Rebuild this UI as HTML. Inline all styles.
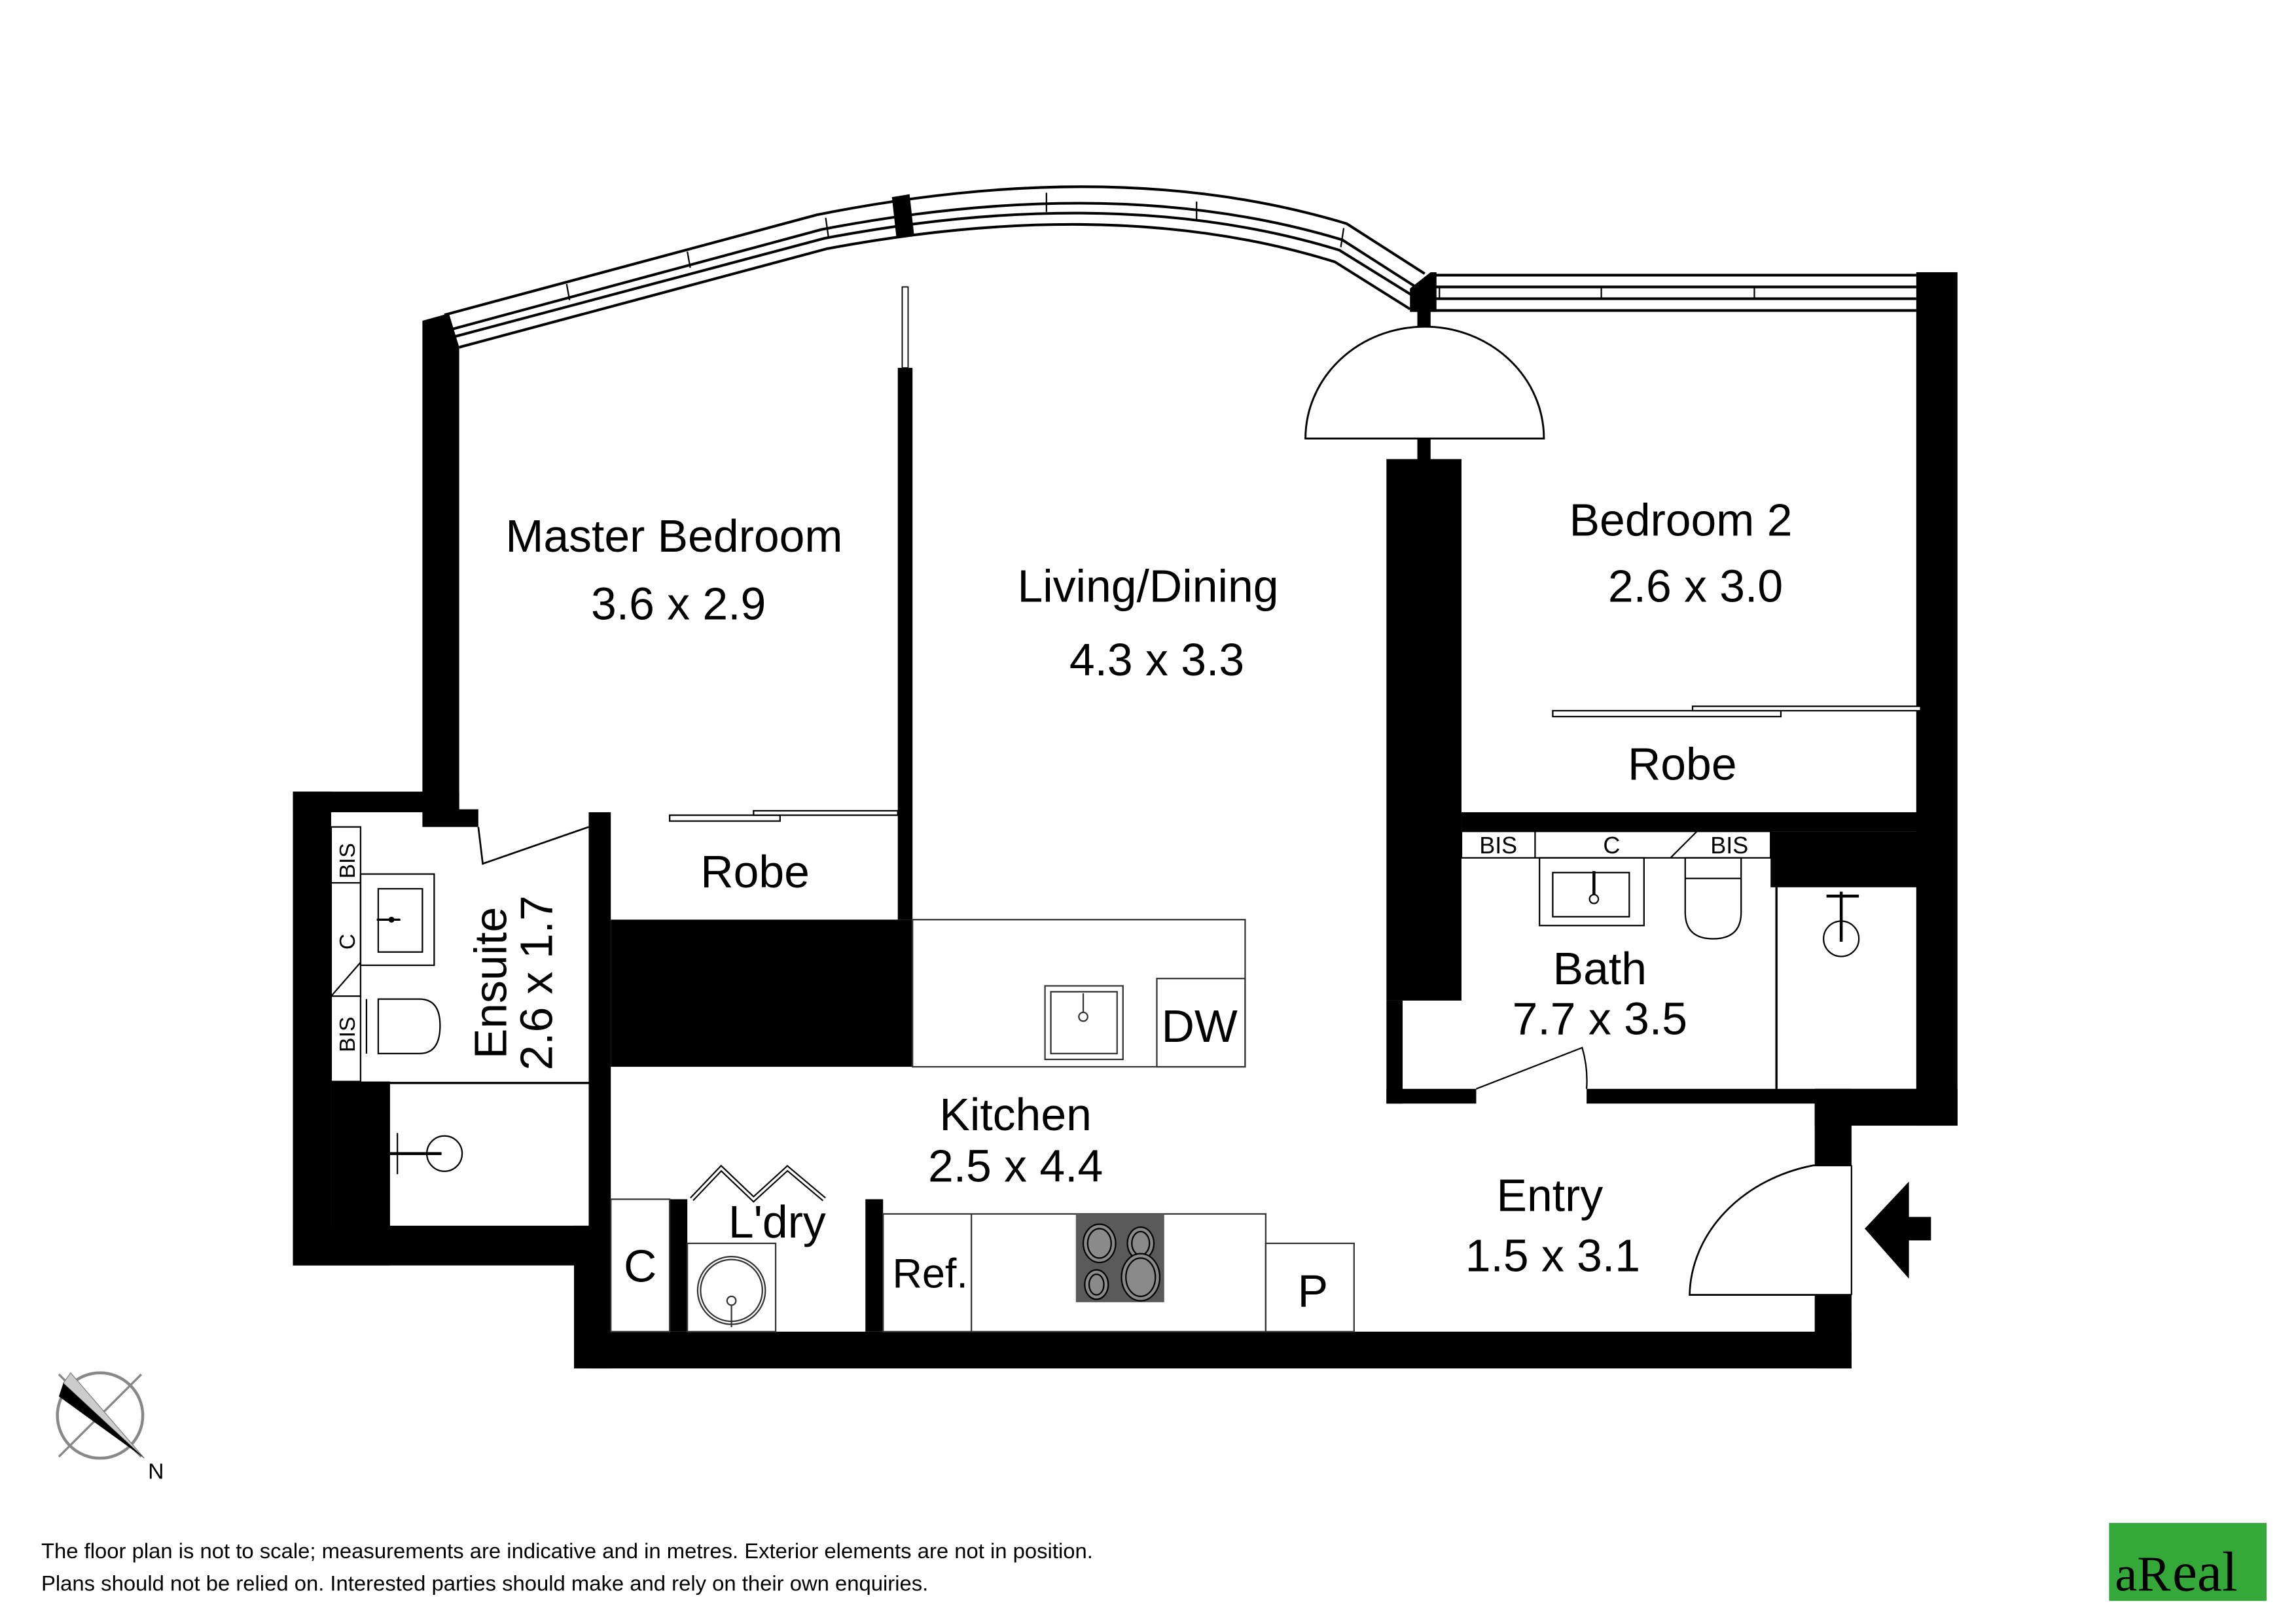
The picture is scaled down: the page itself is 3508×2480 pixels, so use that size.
<!DOCTYPE html>
<html><head><meta charset="utf-8"><style>
html,body{margin:0;padding:0;background:#fff;}
svg{display:block;}
text{font-family:"Liberation Sans",Arial,sans-serif;fill:#000;}
</style></head><body>
<svg width="3508" height="2480" viewBox="0 0 1560 1103" preserveAspectRatio="none" xmlns="http://www.w3.org/2000/svg">
<rect width="1560" height="1103" fill="#fff"/>
<g fill="none" stroke="#000" stroke-width="1.8">
<path d="M302,214 L555,146 Q760,105 915,152 L968,186"/>
<path d="M306,224 L558,156 Q760,117 912,163 L962,195"/>
<path d="M308,229 L560,162 Q760,124 910,170 L960,201"/>
<path d="M312,236 L562,169 Q760,132 907,178 L958,210"/>
</g>
<g stroke="#000" stroke-width="1">
<line x1="385" y1="193" x2="387" y2="204"/><line x1="467" y1="171" x2="469" y2="182"/>
<line x1="561" y1="148" x2="563" y2="162"/><line x1="711" y1="131" x2="711" y2="144"/>
<line x1="813" y1="137" x2="813" y2="150"/><line x1="913" y1="155" x2="911" y2="168"/>
</g>
<polygon points="606,134 618,132 621,159 609,161" fill="#000"/>
<g fill="none" stroke="#000" stroke-width="1.8">
<line x1="972" y1="187" x2="1302" y2="187"/><line x1="975" y1="195" x2="1302" y2="195"/>
<line x1="975" y1="203" x2="1302" y2="203"/><line x1="972" y1="211" x2="1302" y2="211"/>
</g>
<g stroke="#000" stroke-width="1"><line x1="1088" y1="195" x2="1088" y2="203"/><line x1="1192" y1="195" x2="1192" y2="203"/><line x1="978" y1="195" x2="978" y2="203"/></g>
<polygon points="958,196 972,185 976,185 976,212 972,212 972,222 963,222 963,212 958,212" fill="#000"/>
<g fill="#000">
<polygon points="287,218 305,213 312,236 312,552 287,552"/>
<rect x="199" y="538" width="113" height="14"/>
<rect x="287" y="550" width="38" height="12"/>
<rect x="199" y="538" width="26" height="322"/>
<rect x="225" y="735" width="40" height="125"/>
<rect x="199" y="833" width="216" height="27"/>
<rect x="400" y="552" width="15" height="378"/>
<rect x="390" y="833" width="25" height="97"/>
<rect x="390" y="905" width="868" height="25"/>
<rect x="610" y="250" width="10" height="375"/>
<rect x="415" y="625" width="205" height="100"/>
<rect x="455" y="815" width="12" height="90"/>
<rect x="588" y="815" width="12" height="90"/>
<rect x="1233" y="740" width="25" height="52"/>
<rect x="1233" y="880" width="25" height="50"/>
<rect x="1233" y="740" width="97" height="25"/>
<rect x="1302" y="185" width="28" height="580"/>
<rect x="942" y="312" width="51" height="368"/>
<rect x="942" y="680" width="11" height="70"/>
<rect x="942" y="740" width="61" height="10"/>
<rect x="1078" y="740" width="227" height="10"/>
<rect x="993" y="552" width="312" height="13"/>
<rect x="1203" y="565" width="102" height="38"/>
<rect x="963" y="298" width="9" height="14"/>
</g>
<rect x="613" y="195" width="4" height="55" fill="none" stroke="#000" stroke-width="0.8"/>
<path d="M887,298 A81,76 0 0 1 1049,298 Z" fill="#fff" stroke="#000" stroke-width="1.3"/>
<rect x="1055" y="483" width="155" height="4" fill="#fff" stroke="#000" stroke-width="1"/>
<rect x="1150" y="480" width="155" height="3" fill="#fff" stroke="#000" stroke-width="1"/>
<rect x="455" y="554" width="75" height="4" fill="#fff" stroke="#000" stroke-width="1"/>
<rect x="512" y="551" width="98" height="3" fill="#fff" stroke="#000" stroke-width="1"/>
<path d="M325,562 L328,587 L400,562" fill="none" stroke="#000" stroke-width="1.2"/>
<g fill="none" stroke="#000" stroke-width="1">
<rect x="225" y="562" width="20" height="173"/>
<line x1="225" y1="600" x2="245" y2="600"/><line x1="225" y1="677" x2="245" y2="677"/>
<line x1="225" y1="677" x2="245" y2="654"/>
<rect x="245" y="594" width="50" height="62"/>
<rect x="257" y="604" width="30" height="43"/>
<path d="M257,679 L285,679 Q299,679 299,697 Q299,716 285,716 L257,716 Z"/>
<line x1="249" y1="679" x2="249" y2="716"/>
<line x1="265" y1="736" x2="405" y2="736" stroke-width="1.5"/>
<circle cx="302" cy="784" r="12"/>
<line x1="270" y1="770" x2="270" y2="798"/>
<line x1="265" y1="784" x2="300" y2="784" stroke-width="2"/>
</g>
<text x="237" y="585" font-size="15" transform="rotate(-90 237 585)" text-anchor="middle" dominant-baseline="middle">BIS</text>
<text x="237" y="640" font-size="15" transform="rotate(-90 237 640)" text-anchor="middle" dominant-baseline="middle">C</text>
<text x="237" y="703" font-size="15" transform="rotate(-90 237 703)" text-anchor="middle" dominant-baseline="middle">BIS</text>
<circle cx="266" cy="625" r="2" fill="#000"/><line x1="256" y1="625" x2="272" y2="625" stroke="#000" stroke-width="1.5"/>
<g fill="none" stroke="#333" stroke-width="1">
<rect x="620" y="625" width="226" height="100"/>
<rect x="786" y="665" width="60" height="60"/>
<rect x="710" y="670" width="53" height="50"/>
<rect x="714" y="674" width="45" height="42"/>
<circle cx="736" cy="691" r="3"/><line x1="736" y1="675" x2="736" y2="688"/>
<rect x="600" y="825" width="260" height="80"/>
<line x1="660" y1="825" x2="660" y2="905"/>
<rect x="860" y="845" width="60" height="60"/>
<rect x="415" y="815" width="40" height="90"/>
<rect x="467" y="845" width="60" height="60"/>
<circle cx="497" cy="877" r="23"/><circle cx="497" cy="877" r="21"/>
<circle cx="497" cy="884" r="3"/><line x1="497" y1="887" x2="497" y2="902"/>
<path d="M470,815 L490,794 L512,815 L535,794 L560,815" stroke="#000" stroke-width="3.5"/>
<path d="M470,815 L490,794 L512,815 L535,794 L560,815" stroke="#fff" stroke-width="1.6"/>
</g>
<rect x="731" y="825" width="60" height="60" fill="#5a5a5a"/>
<g fill="#8a8a8a" stroke="#000" stroke-width="1">
<ellipse cx="747" cy="845" rx="11" ry="13"/><ellipse cx="747" cy="845" rx="8" ry="10"/>
<ellipse cx="775" cy="845" rx="9" ry="11"/><ellipse cx="775" cy="845" rx="6" ry="8"/>
<ellipse cx="745" cy="873" rx="8" ry="10"/><ellipse cx="745" cy="873" rx="5" ry="7"/>
<ellipse cx="775" cy="868" rx="13" ry="16"/><ellipse cx="775" cy="868" rx="10" ry="13"/>
</g>
<g fill="none" stroke="#000" stroke-width="1">
<rect x="993" y="565" width="210" height="18"/>
<line x1="1043" y1="565" x2="1043" y2="583"/>
<line x1="1135" y1="583" x2="1153" y2="565"/>
<rect x="1046" y="583" width="71" height="46"/>
<rect x="1055" y="593" width="52" height="30"/>
<line x1="1083" y1="592" x2="1083" y2="608" stroke-width="2"/><circle cx="1083" cy="611" r="3"/>
<path d="M1145,583 L1183,583 L1183,620 Q1183,638 1164,638 Q1145,638 1145,620 Z"/>
<line x1="1145" y1="597" x2="1183" y2="597"/>
<line x1="1207" y1="603" x2="1207" y2="740" stroke-width="1.5"/>
<circle cx="1251" cy="638" r="12"/>
<line x1="1241" y1="609" x2="1263" y2="609" stroke-width="2"/>
<line x1="1251" y1="606" x2="1251" y2="640" stroke-width="2"/>
<path d="M1003,740 L1075,712 A80,80 0 0 1 1078,740"/>
</g>
<text x="1018" y="580" font-size="16" text-anchor="middle">BIS</text>
<text x="1095" y="580" font-size="16" text-anchor="middle">C</text>
<text x="1175" y="580" font-size="16" text-anchor="middle">BIS</text>
<path d="M1258,880 L1148,880 A108,92 0 0 1 1232,792 L1258,792" fill="#fff" stroke="#000" stroke-width="1.2"/>
<line x1="1258" y1="792" x2="1258" y2="880" stroke="#000" stroke-width="1"/>
<polygon points="1267,835 1297,803 1297,827 1312,827 1312,843 1297,843 1297,869" fill="#000"/>
<g font-size="31" text-anchor="middle">
<text x="458" y="375">Master Bedroom</text>
<text x="461" y="421">3.6 x 2.9</text>
<text x="780" y="409">Living/Dining</text>
<text x="786" y="459">4.3 x 3.3</text>
<text x="1142" y="364">Bedroom 2</text>
<text x="1152" y="409">2.6 x 3.0</text>
<text x="1143" y="530">Robe</text>
<text x="513" y="603">Robe</text>
<text x="1087" y="669">Bath</text>
<text x="1087" y="703">7.7 x 3.5</text>
<text x="690" y="768">Kitchen</text>
<text x="690" y="803">2.5 x 4.4</text>
<text x="1053" y="823">Entry</text>
<text x="1055" y="864">1.5 x 3.1</text>
<text x="815" y="708">DW</text>
<text x="528" y="841">L'dry</text>
<text x="435" y="871">C</text>
<text x="632" y="875" font-size="28">Ref.</text>
<text x="892" y="888">P</text>
<text x="344" y="668" transform="rotate(-90 344 668)">Ensuite</text>
<text x="375" y="668" transform="rotate(-90 375 668)">2.6 x 1.7</text>
</g>
<g>
<circle cx="68" cy="962" r="29" fill="none" stroke="#888" stroke-width="2"/>
<line x1="40" y1="934" x2="96" y2="990" stroke="#888" stroke-width="1.5"/>
<line x1="96" y1="934" x2="40" y2="990" stroke="#888" stroke-width="1.5"/>
<polygon points="43,940 48,933 98,991" fill="#ccc" stroke="#777" stroke-width="0.5"/>
<polygon points="43,940 98,991 40,949" fill="#000"/>
<text x="106" y="1005" font-size="15" text-anchor="middle">N</text>
</g>
<text x="28" y="1059" font-size="14.6">The floor plan is not to scale; measurements are indicative and in metres. Exterior elements are not in position.</text>
<text x="28" y="1081" font-size="14.6">Plans should not be relied on. Interested parties should make and rely on their own enquiries.</text>
<rect x="1433" y="1035" width="107" height="53" fill="#35a83a"/>
<text x="1437" y="1081" font-size="34" style="font-family:'Liberation Serif',serif" fill="#fff">aR</text>
<text x="1476" y="1081" font-size="38" style="font-family:'Liberation Serif',serif" fill="#000">eal</text>
</svg>
</body></html>
